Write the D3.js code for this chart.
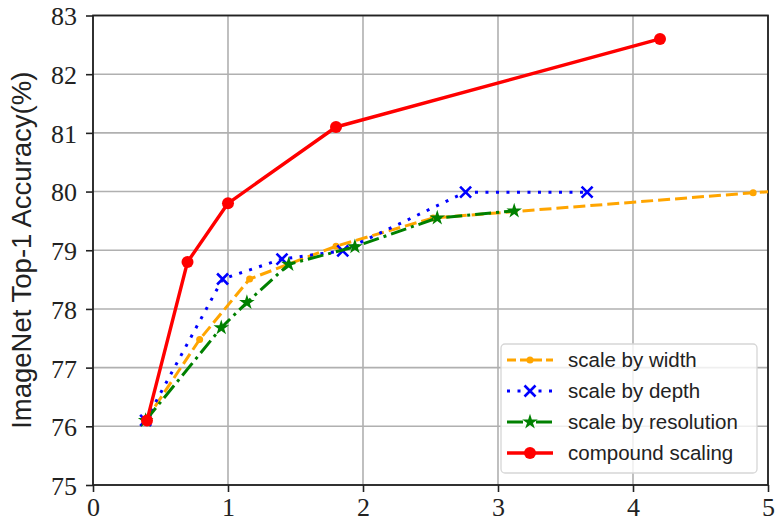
<!DOCTYPE html>
<html>
<head>
<meta charset="utf-8">
<script src="https://cdn.jsdelivr.net/npm/d3@7"></script>
<style>
  body { margin: 0; background: #fff; }
  svg { display: block; }
</style>
</head>
<body>
<div id="chart"></div>
<script>
// values (x = FLOPS, y = top-1 accuracy)
const widthX = [0.39, 0.79, 1.16, 1.80, 2.52, 4.89, 5.60];
const widthY = [76.1, 77.48, 78.51, 79.07, 79.55, 79.98, 80.08];
const depthX = [0.39, 0.96, 1.40, 1.85, 2.76, 3.66];
const depthY = [76.1, 78.51, 78.85, 78.99, 79.99, 79.99];
const resX = [0.39, 0.95, 1.14, 1.45, 1.94, 2.55, 3.12];
const resY = [76.1, 77.68, 78.11, 78.76, 79.06, 79.55, 79.67];
const compX = [0.40, 0.70, 1.00, 1.80, 4.20];
const compY = [76.1, 78.8, 79.8, 81.1, 82.6];
const xTicks = [0, 1, 2, 3, 4, 5];
const yTicks = [75, 76, 77, 78, 79, 80, 81, 82, 83];

const zip = (xs, ys) => xs.map((x, i) => ({ x: x, y: ys[i] }));

const series = [
  { name: "scale by width", pts: zip(widthX, widthY), color: "#FFA500", dash: "12,5", marker: "dot", legDash: "9,4" },
  { name: "scale by depth", pts: zip(depthX, depthY), color: "#0000FF", dash: "3,7.5", marker: "x", legDash: "3,7.5" },
  { name: "scale by resolution", pts: zip(resX, resY), color: "#008000", dash: "16,5,3,5", marker: "star", legDash: "16,5,3,5" },
  { name: "compound scaling", pts: zip(compX, compY), color: "#FF0000", dash: null, marker: "circle", legDash: null }
];

const W = 776, H = 526;
const margin = { left: 93, top: 15.5, right: 8, bottom: 41 };
const pw = W - margin.left - margin.right;
const ph = H - margin.top - margin.bottom;

const svg = d3.select("#chart").append("svg")
  .attr("width", W)
  .attr("height", H);

const g = svg.append("g").attr("transform", `translate(${margin.left},${margin.top})`);

const x = d3.scaleLinear().domain([0, 5]).range([0, pw]);
const y = d3.scaleLinear().domain([75, 83]).range([ph, 0]);

// grid
g.append("g").selectAll("line").data(xTicks).enter().append("line")
  .attr("x1", d => x(d)).attr("x2", d => x(d))
  .attr("y1", 0).attr("y2", ph)
  .attr("stroke", "#b0b0b0").attr("stroke-width", 1.6);
g.append("g").selectAll("line").data(yTicks).enter().append("line")
  .attr("y1", d => y(d)).attr("y2", d => y(d))
  .attr("x1", 0).attr("x2", pw)
  .attr("stroke", "#b0b0b0").attr("stroke-width", 1.6);

// axes
const tickFont = "'Liberation Serif', 'DejaVu Serif', serif";
const xAxis = g.append("g").attr("transform", `translate(0,${ph})`)
  .call(d3.axisBottom(x).tickValues(xTicks).tickFormat(d3.format("d")).tickSize(7).tickPadding(6));
const yAxis = g.append("g")
  .call(d3.axisLeft(y).tickValues(yTicks).tickFormat(d3.format("d")).tickSize(7).tickPadding(9));
[xAxis, yAxis].forEach(a => {
  a.select(".domain").remove();
  a.selectAll(".tick line").attr("stroke", "#222").attr("stroke-width", 1.6);
  a.selectAll(".tick text").attr("font-family", tickFont).attr("font-size", 26).attr("fill", "#222");
});
yAxis.selectAll(".tick text").attr("dy", "0.36em");

// frame
g.append("rect").attr("width", pw).attr("height", ph)
  .attr("fill", "none").attr("stroke", "#222").attr("stroke-width", 1.8);

svg.append("text")
  .attr("transform", `translate(31,${margin.top + ph / 2}) rotate(-90)`)
  .attr("text-anchor", "middle")
  .attr("font-family", "'Liberation Sans', Arial, sans-serif")
  .attr("font-size", 27.5)
  .attr("fill", "#222")
  .text("ImageNet Top-1 Accuracy(%)");

// markers
function drawMarker(sel, s) {
  if (s.marker === "circle") {
    sel.append("circle").attr("r", 6).attr("fill", s.color);
  } else if (s.marker === "dot") {
    sel.append("circle").attr("r", 3.5).attr("fill", s.color);
  } else if (s.marker === "star") {
    sel.append("path").attr("d", d3.symbol(d3.symbolStar, 75)()).attr("fill", s.color);
  } else {
    sel.append("path").attr("d", "M-5.5,-5.5L5.5,5.5M-5.5,5.5L5.5,-5.5")
      .attr("stroke", s.color).attr("stroke-width", 2.6).attr("fill", "none");
  }
}

svg.append("clipPath").attr("id", "clip")
  .append("rect").attr("width", pw).attr("height", ph);

const plot = g.append("g").attr("clip-path", "url(#clip)");
const line = d3.line().x(d => x(d.x)).y(d => y(d.y));

series.forEach(s => {
  plot.append("path").datum(s.pts)
    .attr("d", line)
    .attr("fill", "none")
    .attr("stroke", s.color)
    .attr("stroke-width", s.marker === "circle" ? 3.4 : 3)
    .attr("stroke-dasharray", s.dash)
    .attr("stroke-linejoin", "round");
  plot.append("g").selectAll("g").data(s.pts).enter().append("g")
    .attr("transform", d => `translate(${x(d.x)},${y(d.y)})`)
    .each(function () { drawMarker(d3.select(this), s); });
});

// legend
const leg = svg.append("g").attr("transform", "translate(501,344)");
leg.append("rect").attr("width", 256).attr("height", 129).attr("rx", 4)
  .attr("fill", "#fff").attr("fill-opacity", 0.8)
  .attr("stroke", "#d6d6d6").attr("stroke-width", 1.3);
series.forEach((s, i) => {
  const row = leg.append("g").attr("transform", `translate(0,${16 + i * 31})`);
  row.append("line").attr("x1", 6).attr("x2", 52)
    .attr("stroke", s.color).attr("stroke-width", s.marker === "circle" ? 3.4 : 3)
    .attr("stroke-dasharray", s.legDash);
  drawMarker(row.append("g").attr("transform", "translate(29,0)"), s);
  row.append("text").attr("x", 67).attr("dy", "0.35em")
    .attr("font-family", "'Liberation Sans', Arial, sans-serif")
    .attr("font-size", 20.5).attr("fill", "#222")
    .text(s.name);
});
</script>
</body>
</html>
